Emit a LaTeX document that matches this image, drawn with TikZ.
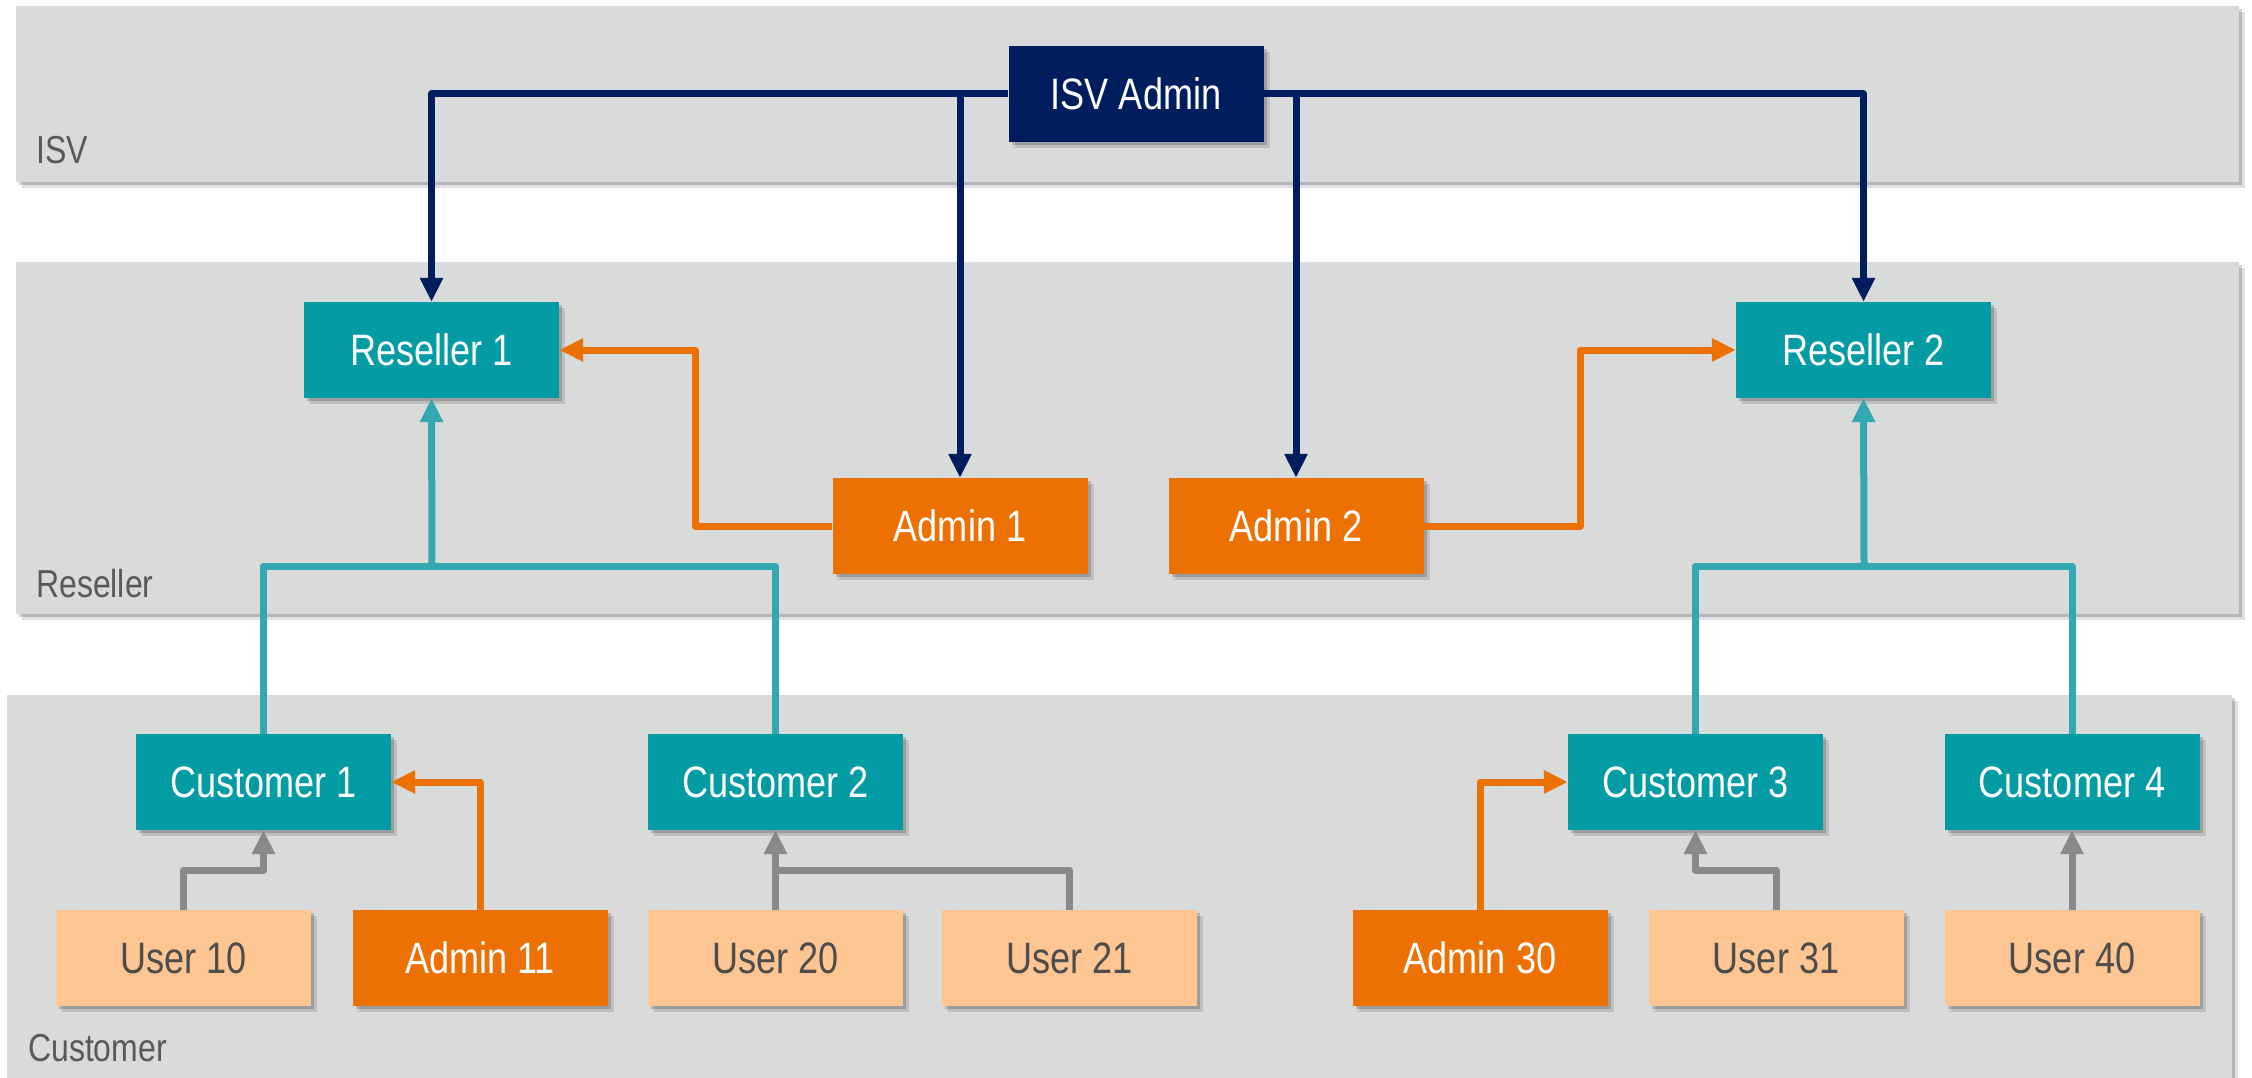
\documentclass[tikz,border=0pt]{standalone}
\usepackage{fontspec}
\setmainfont{Liberation Sans}[FakeStretch=0.82]
\usetikzlibrary{arrows.meta,shadows}
\definecolor{navy}{RGB}{0,30,94}
\definecolor{tealbox}{RGB}{3,155,164}
\definecolor{tealline}{RGB}{51,168,176}
\definecolor{orng}{RGB}{237,112,3}
\definecolor{lorng}{RGB}{253,197,145}
\definecolor{band}{RGB}{217,218,218}
\definecolor{grayline}{RGB}{137,137,137}
\definecolor{darktext}{RGB}{77,77,77}
\definecolor{labeltext}{RGB}{89,89,89}
\begin{document}
\begin{tikzpicture}[x=1pt,y=-1pt,
  softshadow/.style={drop shadow={shadow xshift=3pt,shadow yshift=-3pt,fill=black,opacity=0.18},
                     drop shadow={shadow xshift=6pt,shadow yshift=-6pt,fill=black,opacity=0.12}},
  box/.style={rectangle,minimum width=255pt,minimum height=96pt,inner sep=0pt,
              font=\fontsize{44}{50}\selectfont,softshadow},
  navybox/.style={box,fill=navy,text=white},
  tealnode/.style={box,fill=tealbox,text=white},
  orangebox/.style={box,fill=orng,text=white},
  userbox/.style={box,fill=lorng,text=darktext},
  bandbox/.style={fill=band,softshadow},
  bandlabel/.style={anchor=west,inner sep=0pt,text=labeltext,font=\fontsize{39}{45}\selectfont},
  conn/.style={line width=7pt,line join=round},
  navyconn/.style={conn,draw=navy,-{Triangle[length=24pt,width=22pt]}},
  orangeconn/.style={conn,draw=orng,-{Triangle[length=24pt,width=22pt]}},
  tealconn/.style={conn,draw=tealline},
  grayconn/.style={conn,draw=grayline},
]
\useasboundingbox[fill=white] (0,0) rectangle (2252,1078);
% bands
\path[bandbox] (16,6) rectangle (2239,182);
\path[bandbox] (16,262) rectangle (2239,614);
\path[bandbox] (7,695) rectangle (2232,1078);
\node[bandlabel] (lisv) at (36,150) {ISV};
\node[bandlabel] (lres) at (36,584) {Reseller};
\node[bandlabel] (lcus) at (28,1048) {Customer};

% waypoints
\coordinate (k1) at (695,526);
\coordinate (k2) at (1580,526);
\coordinate (j1) at (432,566);
\coordinate (j2) at (1864,566);
\coordinate (g1) at (263.5,870);
\coordinate (g2) at (775.5,870);
\coordinate (g3) at (1695.5,870);

% nodes
\node[navybox] (isv) at (1136,94) {ISV Admin};
\node[tealnode] (res1) at (431.5,350) {Reseller 1};
\node[orangebox] (adm1) at (960,526) {Admin 1};
\node[orangebox] (adm2) at (1296,526) {Admin 2};
\node[tealnode] (res2) at (1863.5,350) {Reseller 2};
\node[tealnode] (cust1) at (263.5,782) {Customer 1};
\node[tealnode] (cust2) at (775.5,782) {Customer 2};
\node[tealnode] (cust3) at (1695.5,782) {Customer 3};
\node[tealnode] (cust4) at (2072,782) {Customer 4};
\node[userbox] (u10) at (183.5,958) {User 10};
\node[orangebox] (a11) at (480,958) {Admin 11};
\node[userbox] (u20) at (775.5,958) {User 20};
\node[userbox] (u21) at (1069.5,958) {User 21};
\node[orangebox] (a30) at (1480,958) {Admin 30};
\node[userbox] (u31) at (1776,958) {User 31};
\node[userbox] (u40) at (2072,958) {User 40};

% navy
\draw[navyconn] (isv.west) -| (res1.north);
\draw[navyconn] (isv.west) -| (adm1.north);
\draw[navyconn] (isv.east) -| (res2.north);
\draw[navyconn] (isv.east) -| (adm2.north);
% orange
\draw[orangeconn] (adm1.west) -- (k1) |- (res1.east);
\draw[orangeconn] (adm2.east) -- (k2) |- (res2.west);
\draw[orangeconn] (a11.north) |- (cust1.east);
\draw[orangeconn] (a30.north) |- (cust3.west);
% teal
\draw[tealconn] (cust1.north) |- (j1);
\draw[tealconn] (cust2.north) |- (j1);
\draw[tealconn,-{Triangle[length=24pt,width=22pt]}] (j1) -- (res1.south);
\draw[tealconn] (cust3.north) |- (j2);
\draw[tealconn] (cust4.north) |- (j2);
\draw[tealconn,-{Triangle[length=24pt,width=22pt]}] (j2) -- (res2.south);
% gray
\draw[grayconn,-{Triangle[length=24pt,width=22pt]}] (u10.north) |- (g1) -- (cust1.south);
\draw[grayconn,-{Triangle[length=24pt,width=22pt]}] (u20.north) -- (cust2.south);
\draw[grayconn] (u21.north) |- (g2);
\draw[grayconn,-{Triangle[length=24pt,width=22pt]}] (u31.north) |- (g3) -- (cust3.south);
\draw[grayconn,-{Triangle[length=24pt,width=22pt]}] (u40.north) -- (cust4.south);
\end{tikzpicture}
\end{document}
